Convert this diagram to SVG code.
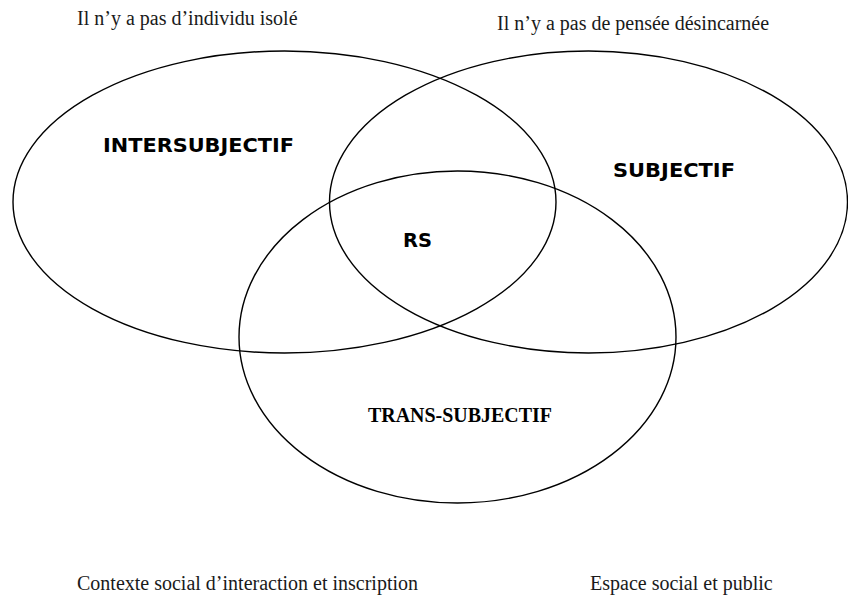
<svg xmlns="http://www.w3.org/2000/svg" width="848" height="601" viewBox="0 0 848 601">
  <style>
    .ring { fill: none; stroke: #000; stroke-width: 1.4; }
    .cap { font-family: "Liberation Serif", "Times New Roman", serif; font-size: 20px; fill: #1a1a1a; }
    .lab { font-family: "DejaVu Sans", Verdana, sans-serif; font-weight: bold; font-size: 19px; fill: #000; }
    .labs { font-family: "Liberation Serif", "Times New Roman", serif; font-weight: bold; font-size: 20px; fill: #000; }
  </style>
  <rect width="848" height="601" fill="#fff"/>
  <g id="intersubjectif">
    <ellipse class="ring" cx="284.5" cy="202" rx="271.5" ry="151"/>
    <text class="lab" x="103" y="152" textLength="191" lengthAdjust="spacingAndGlyphs">INTERSUBJECTIF</text>
  </g>
  <g id="subjectif">
    <ellipse class="ring" cx="588.5" cy="202" rx="259" ry="151"/>
    <text class="lab" x="613" y="177" textLength="122" lengthAdjust="spacingAndGlyphs">SUBJECTIF</text>
  </g>
  <g id="trans-subjectif">
    <ellipse class="ring" cx="457.5" cy="337" rx="218.5" ry="166"/>
    <text class="labs" x="368" y="422" textLength="184" lengthAdjust="spacingAndGlyphs">TRANS-SUBJECTIF</text>
  </g>
  <g id="rs">
    <text class="lab" x="403" y="247" textLength="29" lengthAdjust="spacingAndGlyphs">RS</text>
  </g>
  <g id="captions">
    <text class="cap" x="77" y="25">Il n’y a pas d’individu isolé</text>
    <text class="cap" x="497" y="30">Il n’y a pas de pensée désincarnée</text>
    <text class="cap" x="77" y="590">Contexte social d’interaction et inscription</text>
    <text class="cap" x="590" y="590">Espace social et public</text>
  </g>
</svg>
